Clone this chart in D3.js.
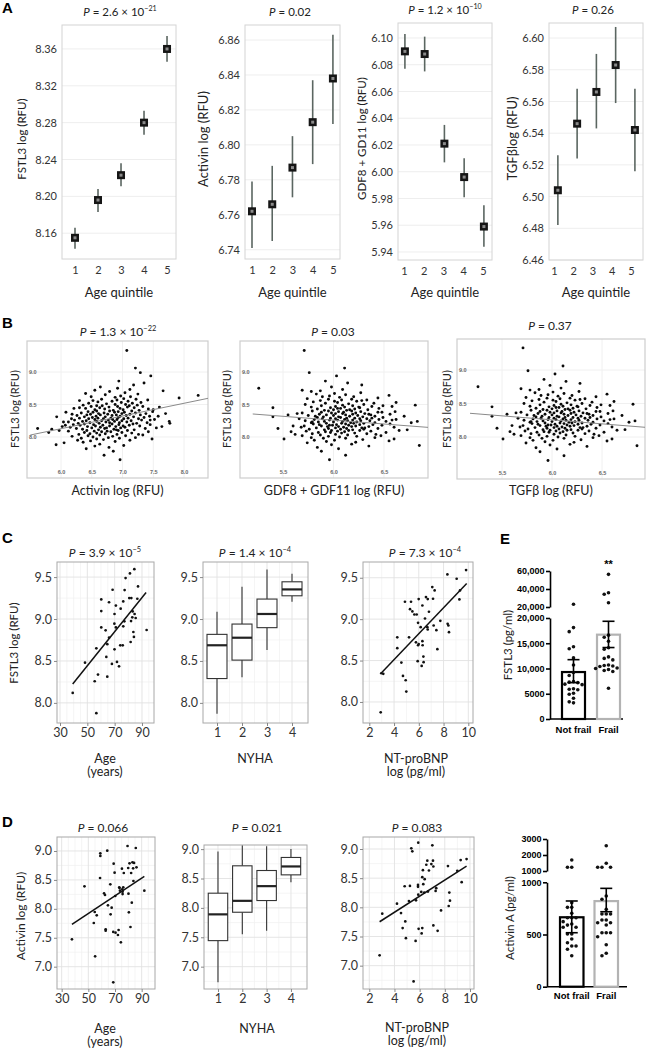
<!DOCTYPE html>
<html><head><meta charset="utf-8">
<script src="https://cdn.jsdelivr.net/npm/d3@7/dist/d3.min.js"></script>
<style>html,body{margin:0;padding:0;background:#fff}svg{display:block}</style>
</head><body><svg id="chart" width="647" height="1050"></svg>
<script>
// ================= DATA =================
// Panel A: age quintiles, mean and 95% CI
const quintiles=[1,2,3,4,5];
const aFstl3Mean=[8.155,8.196,8.223,8.280,8.360];
const aFstl3Lo=[8.143,8.183,8.211,8.267,8.346];
const aFstl3Hi=[8.166,8.208,8.236,8.293,8.374];
const aActivinMean=[6.762,6.766,6.787,6.813,6.838];
const aActivinLo=[6.741,6.745,6.770,6.789,6.812];
const aActivinHi=[6.779,6.788,6.805,6.837,6.863];
const aGdfMean=[6.090,6.088,6.021,5.996,5.959];
const aGdfLo=[6.077,6.075,6.007,5.981,5.944];
const aGdfHi=[6.103,6.101,6.035,6.010,5.975];
const aTgfbMean=[6.504,6.546,6.566,6.583,6.542];
const aTgfbLo=[6.482,6.524,6.543,6.559,6.516];
const aTgfbHi=[6.526,6.568,6.590,6.607,6.568];
const aFstl3Ticks=[8.16,8.20,8.24,8.28,8.32,8.36];
const aActivinTicks=[6.74,6.76,6.78,6.80,6.82,6.84,6.86];
const aGdfTicks=[5.94,5.96,5.98,6.00,6.02,6.04,6.06,6.08,6.10];
const aTgfbTicks=[6.46,6.48,6.50,6.52,6.54,6.56,6.58,6.60];

// Panel B: individual samples (FSTL3 vs ligands)
const fstl3Log=[7.65,7.72,7.78,7.82,7.84,7.86,7.87,7.88,7.89,7.91,
7.92,7.93,7.94,7.95,7.95,7.96,7.97,7.97,7.98,7.98,
7.99,7.99,8.00,8.01,8.01,8.02,8.02,8.03,8.03,8.04,
8.04,8.05,8.05,8.06,8.06,8.07,8.07,8.07,8.08,8.08,
8.09,8.09,8.09,8.10,8.10,8.10,8.10,8.08,8.04,8.11,
8.11,8.12,8.12,8.12,8.13,8.13,8.13,8.14,8.14,8.14,
8.15,8.15,8.15,8.16,8.16,8.16,8.17,8.17,8.17,8.18,
8.18,8.18,8.19,8.19,8.19,8.19,8.20,8.20,8.20,8.11,
8.13,8.16,8.18,8.14,8.17,8.21,8.21,8.21,8.22,8.22,
8.22,8.23,8.23,8.23,8.24,8.24,8.24,8.24,8.25,8.25,
8.25,8.25,8.26,8.26,8.26,8.27,8.27,8.27,8.27,8.28,
8.28,8.28,8.28,8.29,8.29,8.29,8.29,8.30,8.30,8.30,
8.21,8.23,8.26,8.28,8.22,8.31,8.31,8.31,8.32,8.32,
8.32,8.33,8.33,8.33,8.34,8.34,8.34,8.35,8.35,8.35,
8.36,8.36,8.36,8.37,8.37,8.37,8.38,8.38,8.38,8.39,
8.39,8.39,8.40,8.40,8.40,8.31,8.32,8.35,8.36,8.38,
8.34,8.41,8.41,8.42,8.42,8.43,8.43,8.44,8.44,8.45,
8.45,8.45,8.46,8.46,8.47,8.47,8.47,8.48,8.48,8.49,
8.49,8.50,8.50,8.42,8.44,8.46,8.48,8.51,8.52,8.52,
8.53,8.53,8.54,8.55,8.55,8.56,8.57,8.57,8.58,8.58,
8.59,8.60,8.56,8.61,8.62,8.62,8.63,8.64,8.65,8.66,
8.67,8.68,8.70,8.71,8.72,8.73,8.75,8.77,8.80,9.33,
9.06,8.99,8.94,8.86,8.83];
const activinLog=[6.96,6.70,6.85,6.41,6.78,6.55,7.02,5.92,6.63,6.05,
6.36,6.88,6.48,7.12,6.27,6.69,7.48,6.58,6.95,6.33,
6.77,7.21,6.52,6.18,6.84,7.05,6.44,6.63,7.33,6.29,
6.91,6.72,6.47,7.15,6.58,5.80,6.99,6.38,6.81,7.42,
6.54,6.12,6.75,7.08,6.42,6.93,5.97,6.66,7.26,6.61,
7.19,6.35,6.86,5.85,6.71,7.37,6.25,6.97,6.50,7.55,
6.64,6.15,7.04,6.43,6.89,6.02,7.28,6.56,6.79,6.31,
7.11,6.68,6.94,6.20,7.45,6.53,6.83,7.17,6.38,6.90,
5.62,7.64,6.07,6.74,7.01,6.62,7.23,6.28,6.95,6.47,
7.40,6.73,6.12,7.07,6.58,6.87,7.76,6.35,7.14,6.66,
6.99,6.41,7.31,6.77,6.22,6.91,7.52,6.55,6.84,7.02,
6.45,6.69,7.26,6.30,6.81,7.09,6.60,7.35,6.93,6.51,
7.77,6.04,7.45,6.17,6.79,6.72,7.18,6.38,6.96,6.57,
7.44,6.83,6.26,7.06,6.64,7.29,6.90,6.48,7.12,6.76,
7.38,6.61,6.99,6.33,7.21,6.70,7.03,6.52,6.87,7.49,
6.44,6.93,7.15,6.79,6.58,5.93,7.58,6.18,7.70,6.08,
6.42,6.85,7.27,6.55,7.01,6.71,7.42,6.40,6.96,7.19,
6.63,6.30,7.08,6.78,7.33,6.49,6.92,7.11,6.67,7.24,
6.36,6.88,7.05,7.50,6.21,7.60,6.58,6.74,7.16,6.45,
6.98,7.30,6.60,7.09,6.83,6.30,7.41,6.91,6.66,7.22,
7.02,7.92,6.52,6.88,7.13,6.49,6.97,8.23,6.72,7.25,
6.40,7.04,6.79,7.66,6.55,7.12,6.92,6.64,7.18,7.07,
7.21,7.29,7.46,6.94,7.35];
const gdfLog=[5.96,6.12,5.88,6.05,5.84,6.35,6.85,5.98,6.18,5.74,
6.22,5.93,6.55,6.01,5.81,6.29,6.60,5.51,6.12,5.90,
6.41,5.78,6.06,5.95,6.23,5.69,6.47,5.87,6.14,6.02,
5.62,6.33,5.79,6.08,6.21,5.97,6.52,5.85,6.11,5.92,
6.37,5.73,6.04,6.26,5.98,6.65,6.15,5.58,6.42,5.91,
6.19,6.07,5.76,6.30,6.13,5.95,6.44,6.02,5.83,6.28,
6.60,5.68,6.10,5.94,6.35,6.05,5.88,6.22,5.71,6.15,
6.48,5.99,6.26,5.86,6.03,6.39,5.80,6.12,6.56,6.73,
5.45,6.18,5.96,6.31,5.60,6.08,5.93,6.30,6.17,5.78,
6.41,6.00,6.23,5.85,6.52,6.09,6.83,5.91,6.27,5.72,
6.14,6.36,6.04,5.96,6.19,5.81,6.45,6.11,6.62,5.89,
6.26,6.02,5.66,6.13,6.38,5.97,6.21,6.07,5.84,6.49,
6.20,5.79,6.58,6.33,6.77,6.05,6.29,5.90,6.16,6.41,
5.82,6.00,6.24,5.75,6.12,6.37,5.93,6.19,6.56,5.86,
6.09,6.31,6.02,5.98,6.22,5.69,6.44,6.10,5.88,6.27,
6.05,6.61,5.95,6.18,5.79,5.40,6.70,6.35,5.64,6.48,
5.55,6.13,5.91,6.34,6.00,6.21,5.84,6.07,6.45,5.97,
6.26,5.40,6.11,5.78,6.38,6.02,6.58,6.19,5.88,6.81,
6.09,6.30,5.72,6.16,6.04,6.25,6.49,6.15,5.92,6.40,
6.04,6.62,5.80,6.23,6.01,5.87,6.33,6.08,5.95,6.18,
5.74,6.44,6.28,6.06,5.89,6.20,5.96,6.55,6.12,5.83,
6.01,6.27,5.78,5.87,5.69,6.09,5.26,5.98,6.28,5.71,
6.11,5.76,6.03,5.92,6.14];
const tgfbLog=gdfLog.slice(); // the TGFβ scatter in the reference is identical to the GDF8+GDF11 one
const bYTicks=[8.0,8.5,9.0];
const bFitActivin=[[5.50,8.03],[8.39,8.595]];
const bFitGdf=[[5.20,8.354],[6.936,8.148]];
const bFitTgfb=[[5.18,8.354],[6.93,8.145]];

// Panel C: FSTL3 (HF cohort)
const cAge=[39.3,48.3,56.6,55.4,57.8,56.6,60.2,60.2,60.2,63.4,63.9,64.6,64.6,65.9,65.9,68.0,68.5,69.9,69.8,69.9,70.9,70.9,71.7,73.2,74.1,74.4,75.9,76.3,76.3,77.1,77.3,78.0,80.7,81.7,82.0,82.2,81.2,82.9,83.2,83.7,84.1,84.4,84.6,85.4,86.6,87.1,93.4];
const cFstl3Age=[8.119,8.48,8.65,8.258,8.337,7.877,9.234,9.095,8.90,8.865,8.548,8.70,8.313,9.20,8.778,8.464,9.349,9.06,8.944,8.639,9.16,8.90,8.488,8.436,8.686,9.123,8.686,9.21,8.913,8.972,9.345,9.488,9.25,8.726,8.976,9.25,9.544,9.02,9.09,8.845,8.786,9.595,9.06,9.012,9.242,9.389,8.869];
const cBnp=[2.92,2.97,3.13,4.26,4.26,4.59,4.72,4.94,4.99,4.88,5.21,5.37,5.29,5.48,5.64,5.83,5.77,5.94,5.99,5.94,5.99,5.91,6.15,6.29,6.29,6.31,6.23,6.37,6.39,6.50,6.58,6.72,6.69,6.72,6.82,7.09,7.28,7.15,7.20,7.42,7.50,7.74,8.31,8.33,8.39,8.44,9.06,9.33,9.28,9.82];
const cFstl3Bnp=[7.875,8.347,8.34,8.78,8.649,8.476,8.315,8.262,8.125,9.21,8.78,9.21,9.12,9.093,9.056,9.056,8.72,8.685,9.242,8.956,8.70,8.492,8.903,9.165,8.734,8.685,8.435,8.548,8.48,9.008,9.266,9.242,8.903,8.875,9.089,9.387,9.347,9.246,8.923,8.867,8.637,8.98,9.54,8.944,8.923,8.843,9.488,9.347,9.238,9.593];
const cFitAge=[[39.3,8.226],[93.0,9.317]];
const cFitBnp=[[2.97,8.351],[9.87,9.431]];
const nyha=[1,2,3,4];
const cNyhaMin=[7.87,8.306,8.63,9.206];
const cNyhaQ1=[8.29,8.51,8.897,9.277];
const cNyhaMed=[8.687,8.777,9.06,9.353];
const cNyhaQ3=[8.817,8.94,9.238,9.444];
const cNyhaMax=[9.087,9.385,9.59,9.54];

// Panel D: Activin (HF cohort)
const dAge=[37.7,47.1,55.1,54.1,54.8,56.3,59.0,59.0,58.8,61.8,62.5,63.0,63.0,64.2,64.7,66.5,66.7,67.5,69.0,68.7,69.7,70.2,70.4,72.2,72.7,73.4,74.4,73.2,73.7,75.2,75.4,75.7,76.2,76.6,75.7,68.7,79.4,79.9,80.1,80.4,80.9,81.6,82.1,82.6,83.1,83.6,84.3,85.6,86.1,83.8,92.0];
const dActivinAge=[7.473,8.389,7.179,7.755,7.945,7.888,8.96,8.914,8.533,8.268,8.239,7.646,7.622,9.006,8.06,8.424,7.905,8.02,8.781,7.60,8.625,8.222,7.588,7.548,7.634,8.36,7.421,8.372,8.314,8.695,8.337,8.297,8.372,8.62,8.256,6.729,9.086,8.706,8.262,7.94,8.787,7.686,8.62,8.107,8.804,8.70,8.793,9.052,8.718,8.481,8.314];
const dBnp=[2.82,3.03,4.20,4.52,4.65,4.86,4.91,4.81,5.23,5.15,5.34,5.42,5.68,5.71,5.89,5.87,5.87,5.89,5.92,6.21,6.16,6.13,6.21,6.29,6.26,6.40,6.37,6.53,6.61,6.74,6.66,6.93,7.01,7.06,7.09,7.09,7.27,7.32,7.43,7.70,8.25,8.36,8.41,8.31,5.52,8.99,9.26,9.34,9.73];
const dActivinBnp=[7.178,7.891,8.063,7.902,7.644,7.759,7.471,8.362,8.368,8.109,9.011,8.96,7.425,8.121,9.109,8.385,8.351,8.218,7.632,7.644,7.552,8.264,8.517,8.397,8.638,8.483,8.253,8.73,8.80,8.632,8.27,8.741,9.063,8.80,7.69,8.70,8.282,8.328,7.598,7.948,8.707,8.253,8.115,8.023,6.73,8.626,8.81,8.431,8.828];
const dFitAge=[[37.7,7.732],[92.0,8.562]];
const dFitBnp=[[2.82,7.753],[9.73,8.707]];
const dNyhaMin=[6.733,7.55,7.61,8.438];
const dNyhaQ1=[7.443,7.926,8.125,8.562];
const dNyhaMed=[7.89,8.12,8.37,8.705];
const dNyhaQ3=[8.25,8.716,8.636,8.858];
const dNyhaMax=[8.96,9.06,9.05,9.0];

// Panel E and lower bar chart: frailty groups
const frailGroups=['Not frail','Frail'];
const eFstl3NotFrail=[23000,18100,17300,14300,13900,12100,10700,9200,8600,7400,7300,7200,6900,6800,6000,5900,5800,5100,4900,4100,3400,3200];
const eFstl3Frail=[56300,35900,34100,24800,16600,16200,15400,14100,13800,12300,12000,11700,10700,10600,10500,10400,10100,10000,9800,9600,9400,6100];
const eFstl3Mean=[9300,16700];
const eFstl3SemLo=[7200,14150];
const eFstl3SemHi=[11750,19350];
const eFstl3LoTicks=[0,5000,10000,15000,20000];
const eFstl3HiTicks=[20000,40000,60000];
const fActivinNotFrail=[1690,1230,1230,805,760,760,703,660,660,660,623,600,590,569,569,505,505,457,421,390,390,358,297];
const fActivinFrail=[2580,1480,1230,1230,1230,869,837,741,696,696,696,639,639,613,613,591,517,517,517,479,402,320,297];
const fActivinMean=[665,820];
const fActivinSemLo=[517,718];
const fActivinSemHi=[821,942];
const fActivinLoTicks=[0,500,1000];
const fActivinHiTicks=[1000,2000,3000];

// ================= DRAWING =================
const svg=d3.select('#chart');
const F='Lato, "Liberation Sans", sans-serif';
const FA='"Liberation Sans", Arial, sans-serif';

function txt(x,y,s,o={}){
  const t=svg.append('text').attr('x',x).attr('y',y).text(s)
    .attr('font-family',o.family||F).attr('font-size',o.size||12)
    .attr('font-weight',o.weight||'normal').attr('fill',o.fill||'#222')
    .attr('text-anchor',o.anchor||'middle');
  if(o.rot) t.attr('transform',`rotate(-90,${x},${y})`).attr('dy','0.35em');
  return t;
}
function pTitle(x,y,base,exp,size){
  const t=svg.append('text').attr('x',x).attr('y',y).attr('text-anchor','middle')
    .attr('font-family',F).attr('font-size',size).attr('fill','#222');
  t.append('tspan').attr('font-style','italic').text('P');
  t.append('tspan').text(' = '+base+(exp?' \u00d7 10':''));
  if(exp) t.append('tspan').attr('dy',-size*0.42).attr('font-size',size*0.62).text(exp);
}

// panel letters
[['A',2,13],['B',2,328],['C',2,543],['D',2,827],['E',500,544]].forEach(l=>
  txt(l[1],l[2],l[0],{family:FA,size:15,weight:'bold',anchor:'start',fill:'#000'}));

// ---------- Panel A ----------
const aLayout=[
 {mean:aFstl3Mean,lo:aFstl3Lo,hi:aFstl3Hi,ticks:aFstl3Ticks,box:[62,176,25,259],xd:[0.435,5.39],yd:[8.132,8.386],p:['2.6','\u221221'],tx:120,ty:16,ylab:'FSTL3 log (RFU)',ylx:22,yls:11.5,dx:0},
 {mean:aActivinMean,lo:aActivinLo,hi:aActivinHi,ticks:aActivinTicks,box:[245,340,25,259],xd:[0.654,5.35],yd:[6.7347,6.8686],p:['0.02',null],tx:290,ty:16,ylab:'Activin log (RFU)',ylx:203,yls:13,dx:0},
 {mean:aGdfMean,lo:aGdfLo,hi:aGdfHi,ticks:aGdfTicks,box:[398,492,23,260],xd:[0.70,5.46],yd:[5.934,6.1112],p:['1.2','\u221210'],tx:445,ty:14,ylab:'GDF8 + GD11 log (RFU)',ylx:362,yls:11.5,dx:0.05},
 {mean:aTgfbMean,lo:aTgfbLo,hi:aTgfbHi,ticks:aTgfbTicks,box:[549,643,23,260],xd:[0.74,5.62],yd:[6.46,6.6095],p:['0.26',null],tx:593,ty:14,ylab:'TGF\u03b2log (RFU)',ylx:512,yls:13,dx:0.2}
];
aLayout.forEach(p=>{
  const [x0,x1,y0,y1]=p.box;
  const x=d3.scaleLinear().domain(p.xd).range([x0,x1]);
  const y=d3.scaleLinear().domain(p.yd).range([y1,y0]);
  const g=svg.append('g');
  g.selectAll(null).data(p.ticks).join('line')
    .attr('x1',x0).attr('x2',x1).attr('y1',d=>y(d)).attr('y2',d=>y(d))
    .attr('stroke','#eeeeee').attr('stroke-width',1);
  g.append('rect').attr('x',x0).attr('y',y0).attr('width',x1-x0).attr('height',y1-y0)
    .attr('fill','none').attr('stroke','#d4d4d4').attr('stroke-width',1);
  const ya=g.append('g').attr('transform',`translate(${x0},0)`)
    .call(d3.axisLeft(y).tickValues(p.ticks).tickFormat(d3.format('.2f')).tickSize(0).tickPadding(5));
  ya.select('.domain').remove();
  ya.attr('font-family',F).attr('font-size',11).attr('color','#333');
  const xa=g.append('g').attr('transform',`translate(0,${y1})`)
    .call(d3.axisBottom(x).tickValues(quintiles).tickFormat(d3.format('d')).tickSize(0).tickPadding(7));
  xa.select('.domain').remove();
  xa.attr('font-family',F).attr('font-size',11).attr('color','#333');
  const pts=quintiles.map((q,i)=>({q,m:p.mean[i],lo:p.lo[i],hi:p.hi[i]}));
  g.selectAll(null).data(pts).join('line')
    .attr('x1',d=>x(d.q+p.dx)).attr('x2',d=>x(d.q+p.dx))
    .attr('y1',d=>y(d.lo)).attr('y2',d=>y(d.hi))
    .attr('stroke','#5b6661').attr('stroke-width',1.6);
  g.selectAll(null).data(pts).join('rect')
    .attr('x',d=>x(d.q+p.dx)-4).attr('y',d=>y(d.m)-4).attr('width',8).attr('height',8).attr('fill','#151515');
  g.selectAll(null).data(pts).join('rect')
    .attr('x',d=>x(d.q+p.dx)-1.5).attr('y',d=>y(d.m)-1.5).attr('width',3).attr('height',3).attr('fill','#8a8a8a');
  pTitle(p.tx,p.ty,p.p[0],p.p[1],11.5);
  txt(p.ylx,(y0+y1)/2-3,p.ylab,{size:p.yls,rot:true});
  txt((x0+x1)/2,297,'Age quintile',{size:13});
});

// ---------- Panel B ----------
const bLayout=[
 {xs:activinLog,box:[27,208,341,478],xd:[5.447,8.39],yd:[7.369,9.477],xt:[6,6.5,7,7.5,8],fit:bFitActivin,p:['1.3','\u221222'],tx:118,ty:336,xlab:'Activin log (RFU)',ylx:15},
 {xs:gdfLog,box:[240,428,341,478],xd:[5.074,6.936],yd:[7.369,9.477],xt:[5.5,6,6.5],fit:bFitGdf,p:['0.03',null],tx:333,ty:336,xlab:'GDF8 + GDF11 log (RFU)',ylx:227},
 {xs:tgfbLog,box:[457,645,339,479],xd:[5.05,6.93],yd:[7.373,9.463],xt:[5.5,6,6.5],fit:bFitTgfb,p:['0.37',null],tx:550,ty:330,xlab:'TGF\u03b2 log (RFU)',ylx:447}
];
bLayout.forEach(p=>{
  const [x0,x1,y0,y1]=p.box;
  const x=d3.scaleLinear().domain(p.xd).range([x0,x1]);
  const y=d3.scaleLinear().domain(p.yd).range([y1,y0]);
  const g=svg.append('g');
  g.selectAll(null).data(p.xt).join('line').attr('x1',d=>x(d)).attr('x2',d=>x(d)).attr('y1',y0).attr('y2',y1).attr('stroke','#f0f0f0');
  g.selectAll(null).data(bYTicks).join('line').attr('x1',x0).attr('x2',x1).attr('y1',d=>y(d)).attr('y2',d=>y(d)).attr('stroke','#f0f0f0');
  g.append('rect').attr('x',x0).attr('y',y0).attr('width',x1-x0).attr('height',y1-y0)
    .attr('fill','none').attr('stroke','#cdcdcd').attr('stroke-width',1.2);
  const ya=g.append('g').attr('transform',`translate(${x0},0)`)
    .call(d3.axisRight(y).tickValues(bYTicks).tickFormat(d3.format('.1f')).tickSize(0).tickPadding(2));
  ya.select('.domain').remove();
  ya.attr('font-family',FA).attr('font-size',5.5).attr('font-weight','bold').attr('color','#666');
  const xa=g.append('g').attr('transform',`translate(0,${y1})`)
    .call(d3.axisTop(x).tickValues(p.xt).tickFormat(d3.format('.1f')).tickSize(0).tickPadding(4));
  xa.select('.domain').remove();
  xa.attr('font-family',FA).attr('font-size',5.5).attr('font-weight','bold').attr('color','#666');
  g.selectAll(null).data(p.xs.map((v,i)=>[v,fstl3Log[i]])).join('circle')
    .attr('cx',d=>x(d[0])).attr('cy',d=>y(d[1])).attr('r',1.45).attr('fill','#0a0a0a');
  g.append('path').datum(p.fit).attr('d',d3.line().x(d=>x(d[0])).y(d=>y(d[1])))
    .attr('stroke','#8a8a8a').attr('stroke-width',1).attr('fill','none');
  pTitle(p.tx,p.ty,p.p[0],p.p[1],12);
  txt((x0+x1)/2,495,p.xlab,{size:12.5});
  txt(p.ylx,409,'FSTL3 log (RFU)',{size:11,rot:true});
});

// ---------- Panels C & D (ggplot style) ----------
function ggFrame(c){
  const [x0,x1,y0,y1]=c.box;
  const x=d3.scaleLinear().domain(c.xd).range([x0,x1]);
  const y=d3.scaleLinear().domain(c.yd).range([y1,y0]);
  const g=svg.append('g');
  const inX=v=>v>c.xd[0]&&v<c.xd[1], inY=v=>v>c.yd[0]&&v<c.yd[1];
  const vl=(vals,col,w)=>g.selectAll(null).data(vals.filter(inX)).join('line')
    .attr('x1',d=>x(d)).attr('x2',d=>x(d)).attr('y1',y0).attr('y2',y1).attr('stroke',col).attr('stroke-width',w);
  const hl=(vals,col,w)=>g.selectAll(null).data(vals.filter(inY)).join('line')
    .attr('y1',d=>y(d)).attr('y2',d=>y(d)).attr('x1',x0).attr('x2',x1).attr('stroke',col).attr('stroke-width',w);
  vl(c.xMinor,'#f0f0f0',0.7); hl(c.yMinor,'#f0f0f0',0.7);
  vl(c.xt,'#e2e2e2',0.9); hl(c.yt,'#e2e2e2',0.9);
  g.append('rect').attr('x',x0).attr('y',y0).attr('width',x1-x0).attr('height',y1-y0)
    .attr('fill','none').attr('stroke','#a8a8a8').attr('stroke-width',1);
  const ya=g.append('g').attr('transform',`translate(${x0},0)`)
    .call(d3.axisLeft(y).tickValues(c.yt).tickFormat(d3.format('.1f')).tickSize(3).tickPadding(2));
  ya.select('.domain').remove();
  ya.attr('font-family',F).attr('font-size',12.5).attr('color','#333');
  ya.selectAll('line').attr('stroke','#888');
  const xa=g.append('g').attr('transform',`translate(0,${y1})`)
    .call(d3.axisBottom(x).tickValues(c.xt).tickFormat(d3.format('d')).tickSize(3).tickPadding(2));
  xa.select('.domain').remove();
  xa.attr('font-family',F).attr('font-size',12.5).attr('color','#333');
  xa.selectAll('line').attr('stroke','#888');
  pTitle(c.tx,c.ty,c.p[0],c.p[1],12);
  return {x,y,g};
}
function scatter(fr,xs,ys,fit){
  fr.g.selectAll(null).data(xs.map((v,i)=>[v,ys[i]])).join('circle')
    .attr('cx',d=>fr.x(d[0])).attr('cy',d=>fr.y(d[1])).attr('r',1.35).attr('fill','#111');
  fr.g.append('path').datum(fit).attr('d',d3.line().x(d=>fr.x(d[0])).y(d=>fr.y(d[1])))
    .attr('stroke','#111').attr('stroke-width',1.5).attr('fill','none');
}
function boxes(fr,cats,mn,q1,md,q3,mx){
  const hw=0.4;
  const data=cats.map((c,i)=>({c,mn:mn[i],q1:q1[i],md:md[i],q3:q3[i],mx:mx[i]}));
  const b=fr.g.selectAll(null).data(data).join('g');
  b.append('line').attr('x1',d=>fr.x(d.c)).attr('x2',d=>fr.x(d.c)).attr('y1',d=>fr.y(d.mx)).attr('y2',d=>fr.y(d.q3)).attr('stroke','#333').attr('stroke-width',1.1);
  b.append('line').attr('x1',d=>fr.x(d.c)).attr('x2',d=>fr.x(d.c)).attr('y1',d=>fr.y(d.q1)).attr('y2',d=>fr.y(d.mn)).attr('stroke','#333').attr('stroke-width',1.1);
  b.append('rect').attr('x',d=>fr.x(d.c-hw)).attr('width',d=>fr.x(d.c+hw)-fr.x(d.c-hw))
    .attr('y',d=>fr.y(d.q3)).attr('height',d=>fr.y(d.q1)-fr.y(d.q3))
    .attr('fill','#fff').attr('stroke','#333').attr('stroke-width',1.1);
  b.append('line').attr('x1',d=>fr.x(d.c-hw)).attr('x2',d=>fr.x(d.c+hw)).attr('y1',d=>fr.y(d.md)).attr('y2',d=>fr.y(d.md)).attr('stroke','#222').attr('stroke-width',2.2);
}
const ageMinor=[35,40,45,55,60,65,75,80,85,95];
const cYt=[8,8.5,9,9.5], cYm=[7.75,8.25,8.75,9.25];
const dYt=[7,7.5,8,8.5,9], dYm=[6.75,7.25,7.75,8.25,8.75];

const c1=ggFrame({box:[57,154,562,723],xd:[27.8,98.8],yd:[7.76,9.68],xt:[30,50,70,90],xMinor:ageMinor,yt:cYt,yMinor:cYm,p:['3.9','\u22125'],tx:105,ty:557});
scatter(c1,cAge,cFstl3Age,cFitAge);
const c2=ggFrame({box:[203,308,562,723],xd:[0.44,4.64],yd:[7.76,9.68],xt:nyha,xMinor:[1.5,2.5,3.5],yt:cYt,yMinor:cYm,p:['1.4','\u22124'],tx:255,ty:557});
boxes(c2,nyha,cNyhaMin,cNyhaQ1,cNyhaMed,cNyhaQ3,cNyhaMax);
const c3=ggFrame({box:[363,473,562,723],xd:[1.49,10.38],yd:[7.746,9.69],xt:[2,4,6,8,10],xMinor:[3,5,7,9],yt:cYt,yMinor:cYm,p:['7.3','\u22124'],tx:425,ty:557});
scatter(c3,cBnp,cFstl3Bnp,cFitBnp);
txt(14,643,'FSTL3 log (RFU)',{size:11.5,rot:true});
txt(105,763,'Age',{size:12.5}); txt(105,776,'(years)',{size:12.5});
txt(255,763,'NYHA',{size:12.5});
txt(416,763,'NT-proBNP',{size:12.5}); txt(416,776,'log (pg/ml)',{size:12.5});

const d1=ggFrame({box:[57,155,837,989],xd:[26.5,100],yd:[6.614,9.242],xt:[30,50,70,90],xMinor:ageMinor,yt:dYt,yMinor:dYm,p:['0.066',null],tx:103,ty:832});
scatter(d1,dAge,dActivinAge,dFitAge);
const d2=ggFrame({box:[204,307,845,989],xd:[0.425,4.66],yd:[6.62,9.07],xt:nyha,xMinor:[1.5,2.5,3.5],yt:dYt,yMinor:dYm,p:['0.021',null],tx:257,ty:832});
boxes(d2,nyha,dNyhaMin,dNyhaQ1,dNyhaMed,dNyhaQ3,dNyhaMax);
const d3p=ggFrame({box:[363,474,837,989],xd:[1.5,10.32],yd:[6.60,9.206],xt:[2,4,6,8,10],xMinor:[3,5,7,9],yt:dYt,yMinor:dYm,p:['0.083',null],tx:417,ty:832});
scatter(d3p,dBnp,dActivinBnp,dFitBnp);
txt(21,916,'Activin log (RFU)',{size:12,rot:true});
txt(105,1033,'Age',{size:12.5}); txt(105,1046,'(years)',{size:12.5});
txt(257,1033,'NYHA',{size:12.5});
txt(417,1032,'NT-proBNP',{size:12.5}); txt(417,1045,'log (pg/ml)',{size:12.5});

// ---------- Bar panels (E and Activin A) ----------
function swarm(vals,yf,cx,r,gap){
  const pts=vals.map(v=>({v,y:yf(v)})).sort((a,b)=>a.y-b.y);
  const placed=[];
  const offs=[0,-1,1,-2,2,-3,3].map(k=>k*gap);
  pts.forEach(p=>{
    let best=null;
    for(const o of offs){const xx=cx+o; if(placed.every(q=>Math.hypot(q.x-xx,q.y-p.y)>=2*r+0.5)){best=xx;break;}}
    p.x=best===null?cx:best; placed.push(p);
  });
  return placed;
}
function barPanel(c){
  const xb=d3.scaleBand().domain(frailGroups).range(c.xr).paddingInner(c.pi);
  const yLo=d3.scaleLinear().domain([0,c.brk]).range([c.yZero,c.yBrkLo]);
  const yHi=d3.scaleLinear().domain([c.brk,c.top]).range([c.yBrkHi,c.yTop]);
  const yv=v=>v<=c.brk?yLo(v):yHi(v);
  const g=svg.append('g');
  const fmt=d=>d>=10000?d3.format(',')(d):String(d);
  [[yLo,c.loTicks],[yHi,c.hiTicks]].forEach(([sc,tv])=>{
    const a=g.append('g').attr('transform',`translate(${c.ax},0)`)
      .call(d3.axisLeft(sc).tickValues(tv).tickFormat(fmt).tickSize(4).tickPadding(1.5).tickSizeOuter(0));
    a.attr('font-family',FA).attr('font-size',9).attr('font-weight','bold').attr('color','#000');
    a.selectAll('line,path').attr('stroke-width',1.6);
  });
  g.append('line').attr('x1',c.ax).attr('x2',c.axEnd).attr('y1',yLo(0)).attr('y2',yLo(0)).attr('stroke','#000').attr('stroke-width',1.6);
  const bw=xb.bandwidth();
  g.selectAll(null).data(frailGroups).join('rect')
    .attr('x',d=>xb(d)).attr('width',bw).attr('y',(d,i)=>yLo(c.mean[i])).attr('height',(d,i)=>yLo(0)-yLo(c.mean[i]))
    .attr('fill','#fff').attr('stroke',(d,i)=>i===0?'#000':'#b3b3b3').attr('stroke-width',2.2);
  frailGroups.forEach((gname,i)=>{
    const pts=swarm(c.dots[i],yv,xb(gname)+bw/2,1.8,4.3);
    g.selectAll(null).data(pts).join('circle').attr('cx',d=>d.x).attr('cy',d=>d.y).attr('r',1.8).attr('fill','#111');
  });
  const eb=frailGroups.map((gname,i)=>({cx:xb(gname)+bw/2,lo:c.lo[i],hi:c.hi[i]}));
  g.selectAll(null).data(eb).join('line').attr('x1',d=>d.cx).attr('x2',d=>d.cx).attr('y1',d=>yv(d.lo)).attr('y2',d=>yv(d.hi)).attr('stroke','#000').attr('stroke-width',1.6);
  ['lo','hi'].forEach(k=>g.selectAll(null).data(eb).join('line').attr('x1',d=>d.cx-6).attr('x2',d=>d.cx+6).attr('y1',d=>yv(d[k])).attr('y2',d=>yv(d[k])).attr('stroke','#000').attr('stroke-width',1.6));
  g.selectAll(null).data(frailGroups).join('text').attr('x',d=>xb(d)+bw/2).attr('y',c.labY).text(d=>d)
    .attr('text-anchor','middle').attr('font-family',FA).attr('font-size',9.5).attr('font-weight','bold').attr('fill','#000');
  txt(c.ylx,c.yly,c.ylab,{size:11.5,rot:true});
  if(c.stars) txt(xb('Frail')+bw/2,568,'**',{family:FA,size:11,weight:'bold',fill:'#000'});
}
barPanel({ax:550,axEnd:623,yZero:719,yBrkLo:618,yBrkHi:607,yTop:571,brk:20000,top:60000,
  loTicks:eFstl3LoTicks,hiTicks:eFstl3HiTicks,xr:[562,620],pi:0.343,dots:[eFstl3NotFrail,eFstl3Frail],
  mean:eFstl3Mean,lo:eFstl3SemLo,hi:eFstl3SemHi,labY:733,ylab:'FSTL3 (pg/ml)',ylx:508,yly:645,stars:true});
barPanel({ax:547,axEnd:627,yZero:986.7,yBrkLo:882.3,yBrkHi:871,yTop:839,brk:1000,top:3000,
  loTicks:fActivinLoTicks,hiTicks:fActivinHiTicks,xr:[560,618],pi:0.319,dots:[fActivinNotFrail,fActivinFrail],
  mean:fActivinMean,lo:fActivinSemLo,hi:fActivinSemHi,labY:999,ylab:'Activin A (pg/ml)',ylx:510,yly:918,stars:false});
</script></body></html>
